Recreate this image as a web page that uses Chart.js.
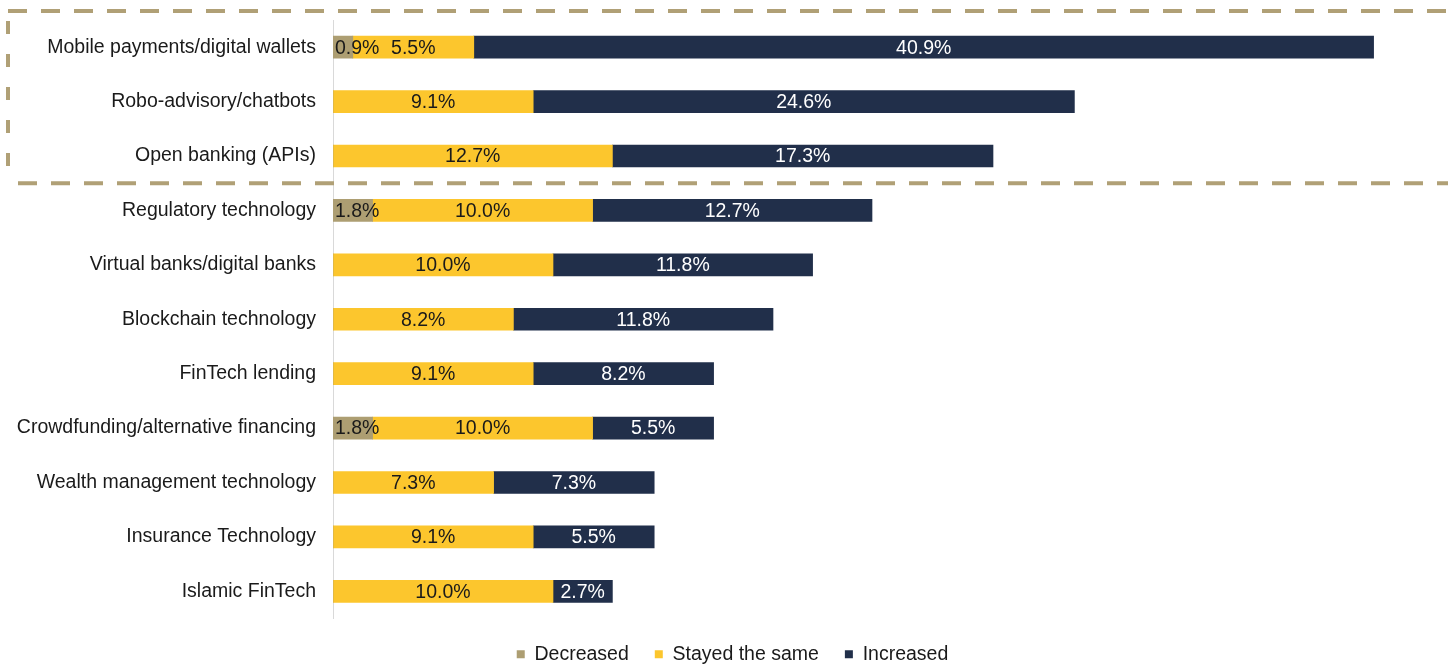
<!DOCTYPE html>
<html>
<head>
<meta charset="utf-8">
<script src="https://cdn.jsdelivr.net/npm/chart.js@4"></script>
<style>
html,body{margin:0;padding:0;background:#fff;overflow:hidden;}
#wrap{width:1448px;height:666px;position:relative;overflow:hidden;}
</style>
</head>
<body>
<div id="wrap"><canvas id="c" width="1448" height="674"></canvas></div>
<script>
const categories = [
  "Mobile payments/digital wallets",
  "Robo-advisory/chatbots",
  "Open banking (APIs)",
  "Regulatory technology",
  "Virtual banks/digital banks",
  "Blockchain technology",
  "FinTech lending",
  "Crowdfunding/alternative financing",
  "Wealth management technology",
  "Insurance Technology",
  "Islamic FinTech"
];
const decreased = [0.9, 0, 0, 1.8, 0, 0, 0, 1.8, 0, 0, 0];
const stayedSame = [5.5, 9.1, 12.7, 10.0, 10.0, 8.2, 9.1, 10.0, 7.3, 9.1, 10.0];
const increased = [40.9, 24.6, 17.3, 12.7, 11.8, 11.8, 8.2, 5.5, 7.3, 5.5, 2.7];
const seriesNames = ["Decreased", "Stayed the same", "Increased"];

const FONT = "'Liberation Sans', Arial, sans-serif";
const FSIZE = 19.5;

const labelPlugin = {
  id: 'segLabels',
  afterDatasetsDraw(chart) {
    const ctx = chart.ctx;
    ctx.save();
    ctx.font = FSIZE + "px " + FONT;
    ctx.textAlign = 'center';
    ctx.textBaseline = 'middle';
    chart.data.datasets.forEach((ds, di) => {
      const meta = chart.getDatasetMeta(di);
      meta.data.forEach((bar, i) => {
        const v = ds.data[i];
        if (!v) return;
        const txt = v.toFixed(1) + '%';
        const w = ctx.measureText(txt).width;
        let cx = (bar.x + bar.base) / 2;
        cx = Math.max(cx, bar.base + w / 2 + 2);
        ctx.fillStyle = ds.labelColor;
        ctx.fillText(txt, cx, bar.y + 1);
      });
    });
    ctx.restore();
  }
};

const legendShift = {
  id: 'legendShift',
  afterLayout(chart) {
    if (chart.legend) { chart.legend.left += 32; }
  }
};

const boxPlugin = {
  id: 'dashBox',
  afterDraw(chart) {
    const ctx = chart.ctx;
    const y = chart.scales.y;
    const bottom = (y.getPixelForValue(2) + y.getPixelForValue(3)) / 2;
    const top = 11;
    const left = 8;
    ctx.save();
    ctx.strokeStyle = '#B0A076';
    ctx.lineWidth = 4;
    ctx.setLineDash([19, 14]);
    ctx.beginPath();
    ctx.moveTo(left, top); ctx.lineTo(chart.width, top);
    ctx.stroke();
    ctx.beginPath();
    ctx.moveTo(left + 10, bottom); ctx.lineTo(chart.width, bottom);
    ctx.stroke();
    ctx.setLineDash([13, 20]);
    ctx.beginPath();
    ctx.moveTo(left, top + 10); ctx.lineTo(left, bottom);
    ctx.stroke();
    ctx.restore();
  }
};

new Chart(document.getElementById('c'), {
  type: 'bar',
  data: {
    labels: categories,
    datasets: [
      { label: seriesNames[0], data: decreased, backgroundColor: '#AD9E72', labelColor: '#1a1a1a' },
      { label: seriesNames[1], data: stayedSame, backgroundColor: '#FCC62D', labelColor: '#1a1a1a' },
      { label: seriesNames[2], data: increased, backgroundColor: '#212F4A', labelColor: '#ffffff' }
    ]
  },
  options: {
    indexAxis: 'y',
    responsive: false,
    animation: false,
    layout: { padding: { top: 20, right: 15, left: 0, bottom: 0 } },
    datasets: { bar: { barThickness: 22, borderWidth: 0 } },
    scales: {
      x: { stacked: true, min: 0, max: 50, display: false },
      y: {
        stacked: true,
        grid: { display: false, drawTicks: true, tickLength: 17 },
        border: { display: true, color: '#D9D9D9', width: 1 },
        ticks: { color: '#1a1a1a', font: { size: FSIZE, family: FONT }, padding: 0 },
        afterFit(scale) { scale.width = 333; }
      }
    },
    plugins: {
      legend: {
        position: 'bottom',
        labels: {
          color: '#1a1a1a',
          font: { size: FSIZE, family: FONT },
          boxWidth: 8, boxHeight: 8,
          padding: 26
        }
      },
      tooltip: { enabled: false }
    }
  },
  plugins: [labelPlugin, boxPlugin, legendShift]
});
</script>
</body>
</html>
